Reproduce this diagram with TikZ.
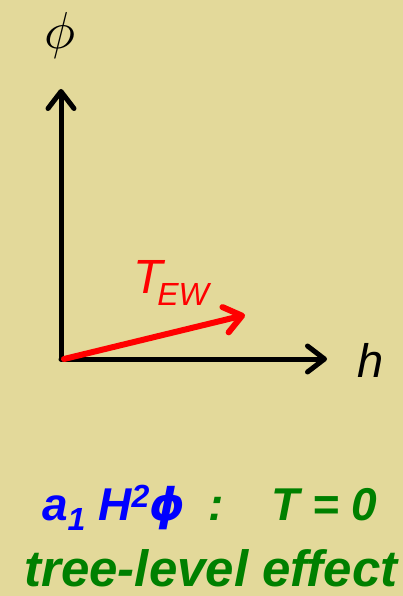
\documentclass[tikz,border=0pt]{standalone}
\usepackage{graphicx}
\usepackage{fontspec}
\setmainfont{Liberation Sans}
\newfontfamily\dvsans{DejaVu Sans}
\usetikzlibrary{arrows.meta}
\definecolor{bg}{RGB}{227,217,154}
\definecolor{dgreen}{RGB}{0,128,0}
\definecolor{tblue}{RGB}{0,0,255}
\definecolor{tred}{RGB}{255,0,0}
\tikzset{
  axis/.style={line width=5pt, line cap=round, -{Straight Barb[length=17pt,width=26pt,round]}},
  redarrow/.style={axis, line width=6pt, draw=tred},
  lbl/.style={inner sep=0pt, outer sep=0pt, anchor=base west},
  big/.style={font=\fontsize{46}{46}\selectfont\bfseries\itshape},
}
\begin{document}
\begin{tikzpicture}[x=1pt,y=-1pt]
\fill[bg] (0,0) rectangle (403,596);
\useasboundingbox (0,0) rectangle (403,596);
\coordinate (O) at (61,359);
\coordinate (Y) at (61,89);
\coordinate (X) at (327,359);
\coordinate (R0) at (64,359);
\coordinate (R1) at (245,315);
\draw[axis] (O) -- (Y);
\draw[axis] (O) -- (X);
\draw[redarrow] (R0) -- (R1);
\node[inner sep=0pt] (phi) at (60,36) {\scalebox{5.2}{\fontsize{10}{12}\selectfont$\phi$}};
\node[lbl] (h) at (357,377) {\fontsize{47}{47}\selectfont\itshape h};
\node[lbl, text=tred] (tew) at (133,293) {\fontsize{48}{48}\selectfont\itshape T\kern-5pt\raisebox{-12pt}{\fontsize{32}{32}\selectfont EW}};
\node[lbl, text=tblue, big] (lhs) at (42,520) {a\raisebox{-10pt}{\fontsize{32}{32}\selectfont 1}\hspace{13pt}H\raisebox{13pt}{\fontsize{32}{32}\selectfont 2}{\dvsans\fontsize{45}{45}\selectfont\bfseries\itshape ϕ}};
\node[lbl, text=dgreen, big] (rhs) at (208,520) {:\hspace{48pt}T = 0};
\node[inner sep=0pt, anchor=base, text=dgreen, font=\fontsize{51}{51}\selectfont\bfseries\itshape] (eff) at (211,586) {tree-level effect};
\end{tikzpicture}
\end{document}
